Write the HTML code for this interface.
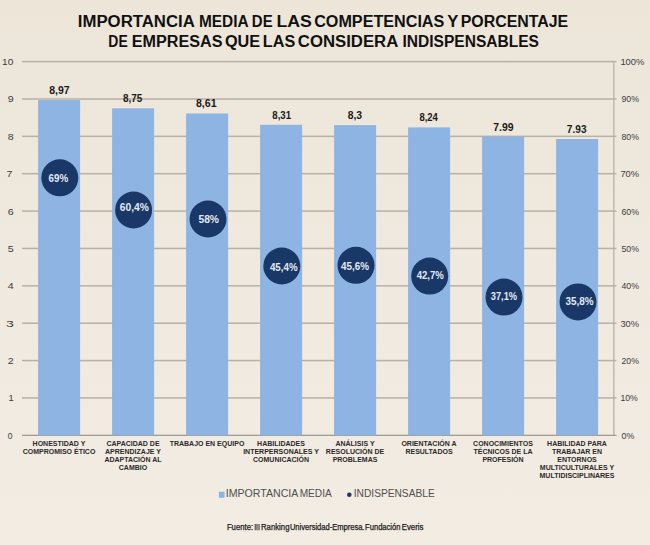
<!DOCTYPE html>
<html><head><meta charset="utf-8"><style>
html,body{margin:0;padding:0;background:#f0e8de;}
body{width:650px;height:545px;overflow:hidden;position:relative;}
svg{position:absolute;left:0;top:0;display:block;}
text{font-family:"Liberation Sans",sans-serif;}
.ax{font-size:8.5px;fill:#3c3c3c;}
.val{font-size:11px;font-weight:bold;fill:#1a1a1a;}
.pc{font-size:10.5px;font-weight:bold;fill:#e3eaf4;}
.cat{font-size:7px;font-weight:bold;fill:#2a2a2a;}
.leg{font-size:11px;fill:#4f4f4f;}
.src{font-size:8.4px;fill:#1a1a1a;stroke:#1a1a1a;stroke-width:0.25px;}
.ttl{font-size:16px;font-weight:bold;fill:#111;}
</style></head><body>
<svg width="650" height="545" viewBox="0 0 650 545">
<defs><linearGradient id="bgg" x1="0" y1="0" x2="0" y2="1"><stop offset="0" stop-color="#ece5d8"/><stop offset="0.5" stop-color="#f0e9df"/><stop offset="1" stop-color="#f2ece3"/></linearGradient></defs>
<rect width="650" height="545" fill="url(#bgg)"/>
<rect x="22" y="397.18" width="594.5" height="1.5" fill="#b9b1a9"/>
<rect x="22" y="359.81" width="594.5" height="1.5" fill="#b9b1a9"/>
<rect x="22" y="322.44" width="594.5" height="1.5" fill="#b9b1a9"/>
<rect x="22" y="285.07" width="594.5" height="1.5" fill="#b9b1a9"/>
<rect x="22" y="247.70" width="594.5" height="1.5" fill="#b9b1a9"/>
<rect x="22" y="210.33" width="594.5" height="1.5" fill="#b9b1a9"/>
<rect x="22" y="172.96" width="594.5" height="1.5" fill="#b9b1a9"/>
<rect x="22" y="135.59" width="594.5" height="1.5" fill="#b9b1a9"/>
<rect x="22" y="98.22" width="594.5" height="1.5" fill="#b9b1a9"/>
<rect x="22" y="60.85" width="594.5" height="1.5" fill="#b9b1a9"/>
<rect x="22" y="434.70" width="594.5" height="1.2" fill="#9a948e"/>
<rect x="613.2" y="61.60" width="1.3" height="373.70" fill="#b9b1a9"/>
<rect x="38.1" y="100.1" width="42" height="335.2" fill="#8db4e2"/>
<rect x="112.1" y="108.3" width="42" height="327.0" fill="#8db4e2"/>
<rect x="186.1" y="113.5" width="42" height="321.8" fill="#8db4e2"/>
<rect x="260.1" y="124.8" width="42" height="310.5" fill="#8db4e2"/>
<rect x="334.1" y="125.1" width="42" height="310.2" fill="#8db4e2"/>
<rect x="408.1" y="127.4" width="42" height="307.9" fill="#8db4e2"/>
<rect x="482.1" y="136.7" width="42" height="298.6" fill="#8db4e2"/>
<rect x="556.1" y="139.0" width="42" height="296.3" fill="#8db4e2"/>
<circle cx="59.8" cy="177.8" r="18.5" fill="#1a3867"/>
<circle cx="133.6" cy="210.0" r="18.5" fill="#1a3867"/>
<circle cx="208" cy="219.0" r="18.5" fill="#1a3867"/>
<circle cx="281.8" cy="266.0" r="18.5" fill="#1a3867"/>
<circle cx="356" cy="265.3" r="18.5" fill="#1a3867"/>
<circle cx="429.7" cy="276.1" r="18.5" fill="#1a3867"/>
<circle cx="504" cy="297.1" r="18.5" fill="#1a3867"/>
<circle cx="578" cy="301.9" r="18.5" fill="#1a3867"/>
<text x="59.0" y="446.1" class="cat" text-anchor="middle">HONESTIDAD Y</text>
<text x="59.0" y="454.1" class="cat" text-anchor="middle">COMPROMISO ÉTICO</text>
<text x="133.0" y="446.1" class="cat" text-anchor="middle">CAPACIDAD DE</text>
<text x="133.0" y="454.1" class="cat" text-anchor="middle">APRENDIZAJE Y</text>
<text x="133.0" y="462.1" class="cat" text-anchor="middle">ADAPTACIÓN AL</text>
<text x="133.0" y="470.1" class="cat" text-anchor="middle">CAMBIO</text>
<text x="207.0" y="446.1" class="cat" text-anchor="middle">TRABAJO EN EQUIPO</text>
<text x="281.0" y="446.1" class="cat" text-anchor="middle">HABILIDADES</text>
<text x="281.0" y="454.1" class="cat" text-anchor="middle">INTERPERSONALES Y</text>
<text x="281.0" y="462.1" class="cat" text-anchor="middle">COMUNICACIÓN</text>
<text x="355.0" y="446.1" class="cat" text-anchor="middle">ANÁLISIS Y</text>
<text x="355.0" y="454.1" class="cat" text-anchor="middle">RESOLUCIÓN DE</text>
<text x="355.0" y="462.1" class="cat" text-anchor="middle">PROBLEMAS</text>
<text x="429.0" y="446.1" class="cat" text-anchor="middle">ORIENTACIÓN A</text>
<text x="429.0" y="454.1" class="cat" text-anchor="middle">RESULTADOS</text>
<text x="503.0" y="446.1" class="cat" text-anchor="middle">CONOCIMIENTOS</text>
<text x="503.0" y="454.1" class="cat" text-anchor="middle">TÉCNICOS DE LA</text>
<text x="503.0" y="462.1" class="cat" text-anchor="middle">PROFESIÓN</text>
<text x="577.0" y="446.1" class="cat" text-anchor="middle">HABILIDAD PARA</text>
<text x="577.0" y="454.1" class="cat" text-anchor="middle">TRABAJAR EN</text>
<text x="577.0" y="462.1" class="cat" text-anchor="middle">ENTORNOS</text>
<text x="577.0" y="470.1" class="cat" text-anchor="middle">MULTICULTURALES Y</text>
<text x="577.0" y="478.1" class="cat" text-anchor="middle">MULTIDISCIPLINARES</text>
<rect x="218.9" y="491.7" width="5.6" height="6.1" fill="#8ab4e6"/>
<circle cx="349.3" cy="494.8" r="2.3" fill="#1a3867"/>
<text x="77.85" y="26.80" class="ttl" textLength="116.88" lengthAdjust="spacingAndGlyphs">IMPORTANCIA</text>
<text x="198.94" y="26.80" class="ttl" textLength="49.60" lengthAdjust="spacingAndGlyphs">MEDIA</text>
<text x="251.87" y="26.80" class="ttl" textLength="20.75" lengthAdjust="spacingAndGlyphs">DE</text>
<text x="276.49" y="26.80" class="ttl" textLength="35.41" lengthAdjust="spacingAndGlyphs">LAS</text>
<text x="314.19" y="26.80" class="ttl" textLength="130.12" lengthAdjust="spacingAndGlyphs">COMPETENCIAS</text>
<text x="447.30" y="26.80" class="ttl" textLength="11.10" lengthAdjust="spacingAndGlyphs">Y</text>
<text x="460.71" y="26.80" class="ttl" textLength="107.46" lengthAdjust="spacingAndGlyphs">PORCENTAJE</text>
<text x="108.33" y="46.60" class="ttl" textLength="19.38" lengthAdjust="spacingAndGlyphs">DE</text>
<text x="131.69" y="46.60" class="ttl" textLength="90.72" lengthAdjust="spacingAndGlyphs">EMPRESAS</text>
<text x="224.98" y="46.60" class="ttl" textLength="35.20" lengthAdjust="spacingAndGlyphs">QUE</text>
<text x="262.89" y="46.60" class="ttl" textLength="32.32" lengthAdjust="spacingAndGlyphs">LAS</text>
<text x="297.85" y="46.60" class="ttl" textLength="100.46" lengthAdjust="spacingAndGlyphs">CONSIDERA</text>
<text x="402.53" y="46.60" class="ttl" textLength="136.43" lengthAdjust="spacingAndGlyphs">INDISPENSABLES</text>
<text x="49.20" y="93.89" class="val" textLength="20.40" lengthAdjust="spacingAndGlyphs">8,97</text>
<text x="122.90" y="102.11" class="val" textLength="19.38" lengthAdjust="spacingAndGlyphs">8,75</text>
<text x="195.95" y="107.34" class="val" textLength="20.71" lengthAdjust="spacingAndGlyphs">8,61</text>
<text x="272.30" y="118.56" class="val" textLength="18.77" lengthAdjust="spacingAndGlyphs">8,31</text>
<text x="347.75" y="118.93" class="val" textLength="14.38" lengthAdjust="spacingAndGlyphs">8,3</text>
<text x="419.40" y="121.17" class="val" textLength="18.50" lengthAdjust="spacingAndGlyphs">8,24</text>
<text x="493.25" y="130.51" class="val" textLength="20.30" lengthAdjust="spacingAndGlyphs">7.99</text>
<text x="566.85" y="132.76" class="val" textLength="19.69" lengthAdjust="spacingAndGlyphs">7.93</text>
<text x="48.50" y="181.60" class="pc" textLength="19.61" lengthAdjust="spacingAndGlyphs">69%</text>
<text x="119.85" y="211.10" class="pc" textLength="29.09" lengthAdjust="spacingAndGlyphs">60,4%</text>
<text x="198.45" y="222.70" class="pc" textLength="20.52" lengthAdjust="spacingAndGlyphs">58%</text>
<text x="269.95" y="270.60" class="pc" textLength="27.70" lengthAdjust="spacingAndGlyphs">45,4%</text>
<text x="341.00" y="270.10" class="pc" textLength="27.99" lengthAdjust="spacingAndGlyphs">45,6%</text>
<text x="416.70" y="279.30" class="pc" textLength="27.20" lengthAdjust="spacingAndGlyphs">42,7%</text>
<text x="490.75" y="299.60" class="pc" textLength="26.31" lengthAdjust="spacingAndGlyphs">37,1%</text>
<text x="565.45" y="305.20" class="pc" textLength="28.09" lengthAdjust="spacingAndGlyphs">35,8%</text>
<text x="7.80" y="438.80" class="ax" textLength="4.73" lengthAdjust="spacingAndGlyphs">0</text>
<text x="621.50" y="438.80" class="ax" textLength="12.91" lengthAdjust="spacingAndGlyphs">0%</text>
<text x="8.40" y="401.43" class="ax" textLength="5.21" lengthAdjust="spacingAndGlyphs">1</text>
<text x="620.48" y="401.43" class="ax" textLength="17.33" lengthAdjust="spacingAndGlyphs">10%</text>
<text x="7.80" y="364.06" class="ax" textLength="5.92" lengthAdjust="spacingAndGlyphs">2</text>
<text x="621.50" y="364.06" class="ax" textLength="17.52" lengthAdjust="spacingAndGlyphs">20%</text>
<text x="6.13" y="326.69" class="ax" textLength="7.89" lengthAdjust="spacingAndGlyphs">3</text>
<text x="620.41" y="326.69" class="ax" textLength="18.61" lengthAdjust="spacingAndGlyphs">30%</text>
<text x="7.80" y="289.32" class="ax" textLength="5.92" lengthAdjust="spacingAndGlyphs">4</text>
<text x="621.50" y="289.32" class="ax" textLength="17.52" lengthAdjust="spacingAndGlyphs">40%</text>
<text x="7.80" y="251.95" class="ax" textLength="5.92" lengthAdjust="spacingAndGlyphs">5</text>
<text x="621.50" y="251.95" class="ax" textLength="17.52" lengthAdjust="spacingAndGlyphs">50%</text>
<text x="7.80" y="214.58" class="ax" textLength="5.92" lengthAdjust="spacingAndGlyphs">6</text>
<text x="621.50" y="214.58" class="ax" textLength="17.52" lengthAdjust="spacingAndGlyphs">60%</text>
<text x="6.55" y="177.21" class="ax" textLength="5.92" lengthAdjust="spacingAndGlyphs">7</text>
<text x="620.41" y="177.21" class="ax" textLength="18.61" lengthAdjust="spacingAndGlyphs">70%</text>
<text x="7.80" y="139.84" class="ax" textLength="5.92" lengthAdjust="spacingAndGlyphs">8</text>
<text x="621.50" y="139.84" class="ax" textLength="17.52" lengthAdjust="spacingAndGlyphs">80%</text>
<text x="7.80" y="102.47" class="ax" textLength="5.92" lengthAdjust="spacingAndGlyphs">9</text>
<text x="621.50" y="102.47" class="ax" textLength="17.52" lengthAdjust="spacingAndGlyphs">90%</text>
<text x="2.11" y="65.10" class="ax" textLength="11.24" lengthAdjust="spacingAndGlyphs">10</text>
<text x="620.40" y="65.10" class="ax" textLength="24.03" lengthAdjust="spacingAndGlyphs">100%</text>
<text x="225.74" y="497.10" class="leg" textLength="72.64" lengthAdjust="spacingAndGlyphs">IMPORTANCIA</text>
<text x="299.68" y="497.10" class="leg" textLength="32.08" lengthAdjust="spacingAndGlyphs">MEDIA</text>
<text x="353.77" y="497.10" class="leg" textLength="80.92" lengthAdjust="spacingAndGlyphs">INDISPENSABLE</text>
<text x="226.88" y="530.20" class="src" textLength="26.20" lengthAdjust="spacingAndGlyphs">Fuente:</text>
<text x="254.16" y="530.20" class="src" textLength="5.87" lengthAdjust="spacingAndGlyphs">III</text>
<text x="260.97" y="530.20" class="src" textLength="28.51" lengthAdjust="spacingAndGlyphs">Ranking</text>
<text x="289.90" y="530.20" class="src" textLength="74.57" lengthAdjust="spacingAndGlyphs">Universidad-Empresa.</text>
<text x="365.09" y="530.20" class="src" textLength="35.42" lengthAdjust="spacingAndGlyphs">Fundación</text>
<text x="401.66" y="530.20" class="src" textLength="21.80" lengthAdjust="spacingAndGlyphs">Everis</text>
</svg>
</body></html>
